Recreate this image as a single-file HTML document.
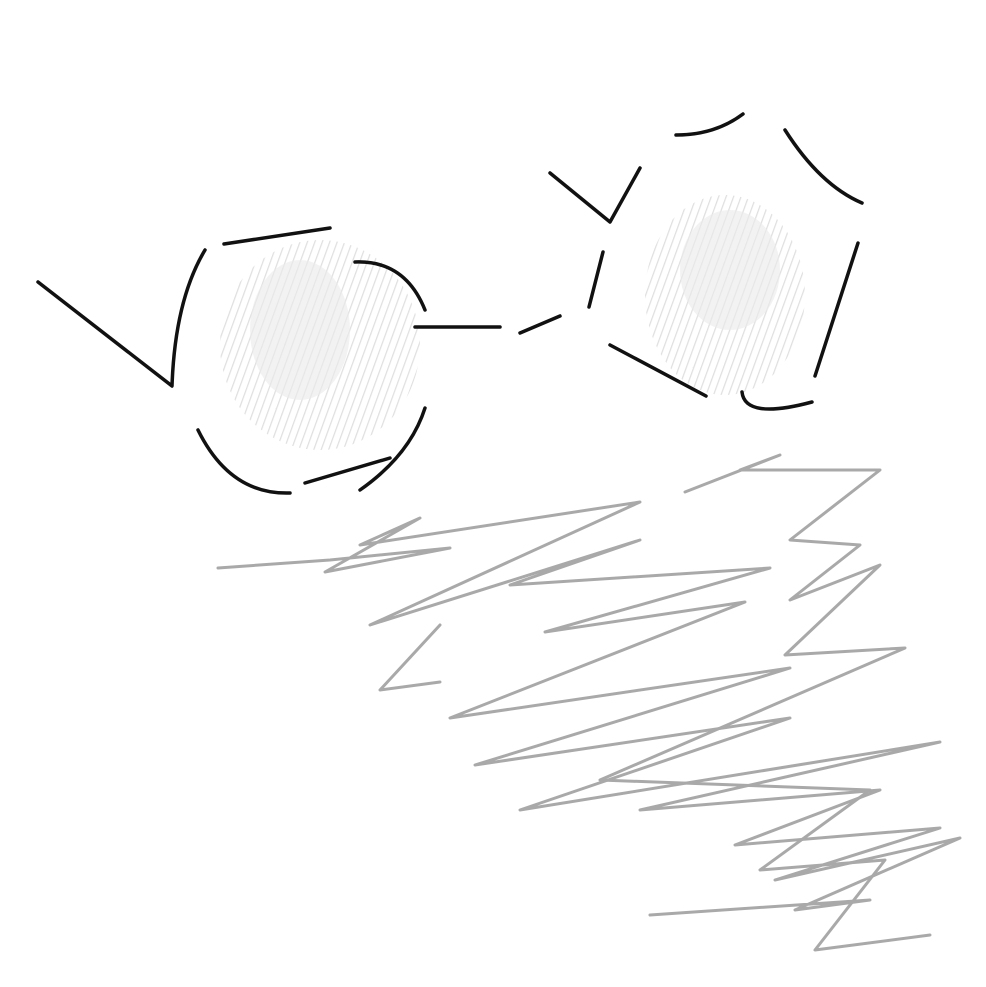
<!DOCTYPE html>
<html><head><meta charset="utf-8"><style>
html,body{margin:0;padding:0;background:#fff;}
svg{display:block;}
</style></head><body>
<svg width="986" height="987" viewBox="0 0 986 987">
<defs>
<pattern id="hatch" width="7" height="7" patternUnits="userSpaceOnUse" patternTransform="rotate(20)">
<line x1="0" y1="0" x2="0" y2="7" stroke="#d8d8d8" stroke-width="2.5"/>
</pattern>
</defs>
<g opacity="0.8">
<ellipse cx="320" cy="345" rx="100" ry="105" fill="url(#hatch)"/>
<ellipse cx="300" cy="330" rx="50" ry="70" fill="#e6e6e6" opacity="0.6"/>
</g>
<g opacity="0.8">
<ellipse cx="725" cy="295" rx="80" ry="100" fill="url(#hatch)"/>
<ellipse cx="730" cy="270" rx="50" ry="60" fill="#e6e6e6" opacity="0.6"/>
</g>
<g fill="none" stroke="#a0a0a0" stroke-width="3" stroke-linejoin="round" stroke-linecap="round" opacity="0.9">
<polyline points="218,568 330,560 450,548 325,572 420,518 360,545 640,502 370,625 640,540 510,585 770,568 545,632 745,602 450,718 790,668 475,765 790,718 520,810 940,742 640,810 880,790 735,845 940,828 775,880 960,838 795,910 870,900 650,915"/>
<polyline points="685,492 780,455 740,470 880,470 790,540 860,545 790,600 880,565 785,655 905,648 600,780 870,790 760,870 885,860 815,950 930,935"/>
<polyline points="440,625 380,690 440,682"/>
</g>
<g fill="none" stroke="#111" stroke-width="3.5" stroke-linecap="round" stroke-linejoin="round">
<path d="M38,282 L172,386 Q175,300 205,250"/>
<path d="M224,244 L330,228"/>
<path d="M355,262 Q405,260 425,310"/>
<path d="M415,327 L500,327"/>
<path d="M520,333 L560,316"/>
<path d="M425,408 Q410,455 360,490"/>
<path d="M305,483 L390,458"/>
<path d="M198,430 Q230,495 290,493"/>
<path d="M550,173 L610,222 L640,168"/>
<path d="M603,252 L589,307"/>
<path d="M610,345 L706,396"/>
<path d="M742,392 Q745,420 812,402"/>
<path d="M858,243 L815,376"/>
<path d="M785,130 Q820,185 862,203"/>
<path d="M676,135 Q715,135 743,114"/>
</g>
</svg>
</body></html>
